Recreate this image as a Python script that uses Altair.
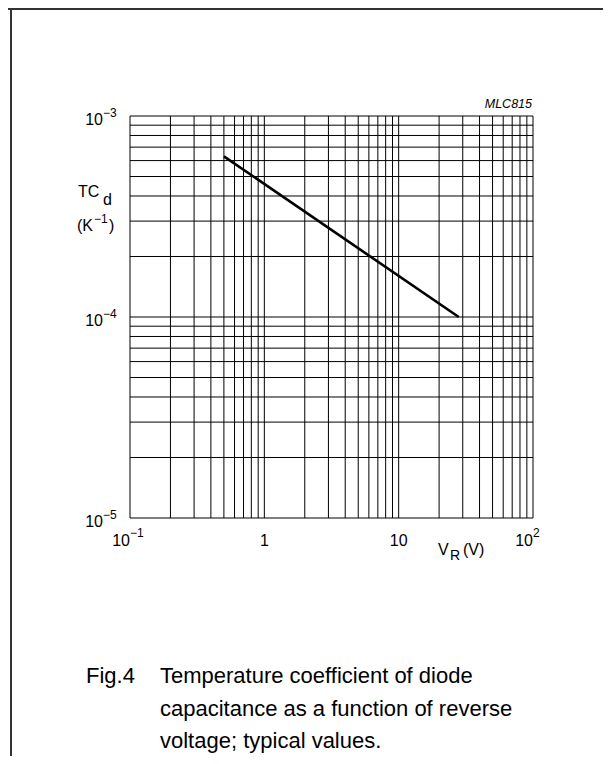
import altair as alt
import pandas as pd

# ---- data ----
vr_values = [0.5, 28.0]            # reverse voltage V_R (V)
tcd_values = [6.3e-4, 1.0e-4]      # TC_d (1/K)

x_grid = [0.1, 0.2, 0.3, 0.4, 0.5, 0.6, 0.7, 0.8, 0.9,
          1, 2, 3, 4, 5, 6, 7, 8, 9,
          10, 20, 30, 40, 50, 60, 70, 80, 90, 100]
y_grid = [1e-5, 2e-5, 3e-5, 4e-5, 5e-5, 6e-5, 7e-5, 8e-5, 9e-5,
          1e-4, 2e-4, 3e-4, 4e-4, 5e-4, 6e-4, 7e-4, 8e-4, 9e-4, 1e-3]

x_plain_vals = [1, 10]
x_plain_text = ["1", "10"]
x_pow_vals = [0.1, 100]
x_pow_exp = ["\u22121", "2"]
y_pow_vals = [1e-3, 1e-4, 1e-5]
y_pow_exp = ["\u22123", "\u22124", "\u22125"]

W, H = 403, 402
FONT = "Liberation Sans"
xs = alt.Scale(type="log", domain=[0.1, 100])
ys = alt.Scale(type="log", domain=[1e-5, 1e-3])

grid_x = alt.Chart(pd.DataFrame({"v": x_grid})).mark_rule(
    color="black", strokeWidth=1).encode(x=alt.X("v:Q", scale=xs, axis=None))
grid_y = alt.Chart(pd.DataFrame({"v": y_grid})).mark_rule(
    color="black", strokeWidth=1).encode(y=alt.Y("v:Q", scale=ys, axis=None))

curve = alt.Chart(pd.DataFrame({"vr": vr_values, "tcd": tcd_values})).mark_line(
    color="black", strokeWidth=2.6).encode(
    x=alt.X("vr:Q", scale=xs, axis=None),
    y=alt.Y("tcd:Q", scale=ys, axis=None))

# x tick labels
xl_plain = alt.Chart(pd.DataFrame({"v": x_plain_vals, "t": x_plain_text})).mark_text(
    font=FONT, fontSize=16, align="center", baseline="alphabetic").encode(
    x=alt.X("v:Q", scale=xs, axis=None), y=alt.value(H + 28), text="t:N")
xl_base = alt.Chart(pd.DataFrame({"v": x_pow_vals, "t": ["10", "10"]})).mark_text(
    font=FONT, fontSize=16, align="right", baseline="alphabetic", dx=0).encode(
    x=alt.X("v:Q", scale=xs, axis=None), y=alt.value(H + 28), text="t:N")
xl_exp = alt.Chart(pd.DataFrame({"v": x_pow_vals, "t": x_pow_exp})).mark_text(
    font=FONT, fontSize=12, align="left", baseline="alphabetic", dx=0).encode(
    x=alt.X("v:Q", scale=xs, axis=None), y=alt.value(H + 19), text="t:N")

# y tick labels
yl_base = alt.Chart(pd.DataFrame({"v": y_pow_vals, "t": ["10", "10", "10"]})).mark_text(
    font=FONT, fontSize=16, align="right", baseline="alphabetic", dy=9).encode(
    y=alt.Y("v:Q", scale=ys, axis=None), x=alt.value(-27), text="t:N")
yl_exp = alt.Chart(pd.DataFrame({"v": y_pow_vals, "t": y_pow_exp})).mark_text(
    font=FONT, fontSize=12, align="left", baseline="alphabetic", dy=1).encode(
    y=alt.Y("v:Q", scale=ys, axis=None), x=alt.value(-27), text="t:N")


def label(txt, px, py, size=16, align="left", italic=False):
    kw = dict(font=FONT, fontSize=size, align=align, baseline="alphabetic", color="black")
    if italic:
        kw["fontStyle"] = "italic"
    return alt.Chart(pd.DataFrame({"t": [txt]})).mark_text(**kw).encode(
        x=alt.value(px), y=alt.value(py), text="t:N")


texts = [
    label("MLC815", W - 1, -8, size=12.5, align="right", italic=True),
    label("TC", -52, 81),
    label("d", -27, 89),
    label("(K", -53, 115),
    label("\u22121", -36, 107, size=12),
    label(")", -21, 115),
    label("V", 308, 439),
    label("R", 320, 444, size=14),
    label("(V)", 333, 439),
    label("Fig.4", -44, 567, size=22),
    label("Temperature coefficient of diode", 30, 567, size=22),
    label("capacitance as a function of reverse", 30, 600, size=22),
    label("voltage; typical values.", 30, 632, size=22),
]

frame_top = alt.Chart(pd.DataFrame({"a": [0]})).mark_rule(
    color="#333333", strokeWidth=2).encode(
    x=alt.value(-122), x2=alt.value(473), y=alt.value(-107))
frame_left = alt.Chart(pd.DataFrame({"a": [0]})).mark_rule(
    color="#333333", strokeWidth=2).encode(
    x=alt.value(-119), y=alt.value(-108), y2=alt.value(640))

chart = alt.layer(
    grid_x, grid_y, curve, xl_plain, xl_base, xl_exp, yl_base, yl_exp,
    *texts, frame_top, frame_left
).properties(
    width=W, height=H,
    padding={"left": 122, "top": 108, "right": 70, "bottom": 238},
    autosize=alt.AutoSizeParams(type="none"),
    background="white",
).configure_view(stroke=None)

chart.save("out.html", embed_options={"renderer": "svg", "actions": False})
